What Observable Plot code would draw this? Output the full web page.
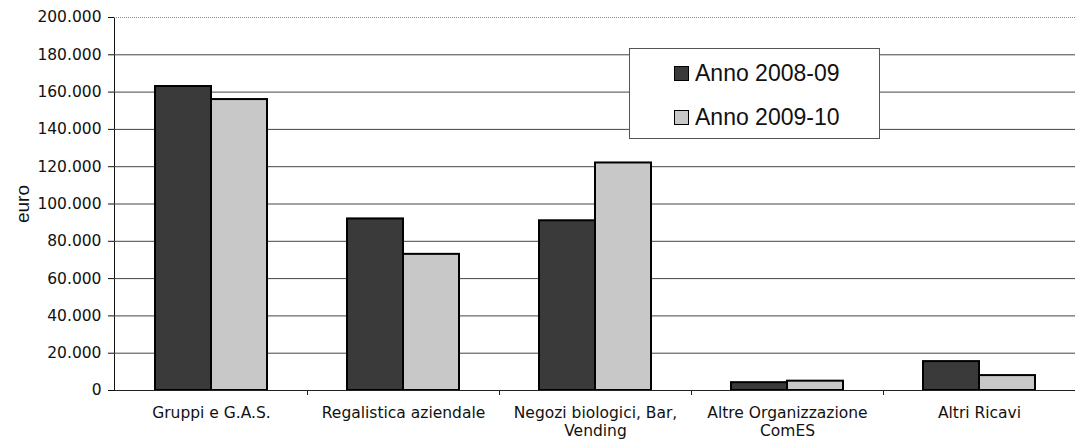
<!DOCTYPE html>
<html>
<head>
<meta charset="utf-8">
<script src="https://cdn.jsdelivr.net/npm/d3@7"></script>
<script src="https://cdn.jsdelivr.net/npm/@observablehq/plot@0.6"></script>
<style>
  html, body { margin: 0; padding: 0; background: #fff; }
  #wrap { position: relative; width: 1075px; height: 441px; }
  #legend { position: absolute; left: 629px; top: 48px; width: 249px; height: 89px;
    border: 1px solid #555; background: #fff; font-family: "Liberation Sans", Arial, sans-serif; font-size: 23px; color: #111; }
  .item { position: absolute; left: 44px; height: 24px; display: flex; align-items: center; }
  .sw { width: 13px; height: 13px; border: 1px solid #000; margin-right: 6px; }
</style>
</head>
<body>
<div id="wrap"></div>
<script>
const categories = ["Gruppi e G.A.S.", "Regalistica aziendale", "Negozi biologici, Bar, Vending", "Altre Organizzazione ComES", "Altri Ricavi"];
const labels = ["Gruppi e G.A.S.", "Regalistica aziendale", "Negozi biologici, Bar,\nVending", "Altre Organizzazione\nComES", "Altri Ricavi"];
const series = ["Anno 2008-09", "Anno 2009-10"];
const values2008 = [163000, 92000, 91000, 4200, 15500];
const values2009 = [156000, 73000, 122000, 5000, 8000];
const yTicks = [0, 20000, 40000, 60000, 80000, 100000, 120000, 140000, 160000, 180000, 200000];
const colors = ["#3a3a3a", "#c8c8c8"];

const it = d3.formatLocale({decimal: ",", thousands: ".", grouping: [3], currency: ["€", ""]});
const fmt = it.format(",");

const d2008 = categories.map((c, i) => ({cat: c, value: values2008[i]}));
const d2009 = categories.map((c, i) => ({cat: c, value: values2009[i]}));
const labelData = categories.map((c, i) => ({cat: c, label: labels[i]}));

const chart = Plot.plot({
  width: 1075,
  height: 441,
  marginLeft: 114,
  marginRight: 0,
  marginTop: 17,
  marginBottom: 51,
  style: {fontFamily: "DejaVu Sans, Verdana, sans-serif", fontSize: "15.5px", color: "#111", background: "#fff"},
  x: {domain: categories, padding: 0, axis: null},
  y: {domain: [0, 200000], ticks: yTicks, tickFormat: fmt, tickSize: 6, tickPadding: 7, label: null, line: true},
  marks: [
    Plot.ruleY(yTicks.filter(t => t > 0 && t < 200000), {stroke: "#444", strokeWidth: 1}),
    Plot.ruleY([200000], {stroke: "#888", strokeWidth: 1, strokeDasharray: "1,1"}),
    Plot.barY(d2008, {x: "cat", y: "value", fill: colors[0], stroke: "#000", strokeWidth: 2, insetLeft: 40, insetRight: 96}),
    Plot.barY(d2009, {x: "cat", y: "value", fill: colors[1], stroke: "#000", strokeWidth: 2, insetLeft: 96, insetRight: 40}),
    Plot.ruleY([0], {stroke: "#222", strokeWidth: 1}),
    Plot.ruleX(categories.slice(0, 4), {x: d => d, y1: 0, y2: 0, dx: 96, insetBottom: -5, stroke: "#222"}),
    Plot.text(labelData, {x: "cat", text: "label", frameAnchor: "bottom", lineAnchor: "top", dy: 15, fontSize: 15.5, lineHeight: 1.15, fill: "#111"}),
    Plot.text(["euro"], {frameAnchor: "left", textAnchor: "middle", rotate: -90, dx: -92, fontSize: 19, fontFamily: "Liberation Sans, Arial, sans-serif", fill: "#111"})
  ]
});

const wrap = document.getElementById("wrap");
wrap.appendChild(chart);

const legend = document.createElement("div");
legend.id = "legend";
series.forEach((s, i) => {
  const item = document.createElement("div");
  item.className = "item";
  item.style.top = (12 + i * 44) + "px";
  const sw = document.createElement("div");
  sw.className = "sw";
  sw.style.background = colors[i];
  const t = document.createElement("span");
  t.textContent = s;
  item.appendChild(sw);
  item.appendChild(t);
  legend.appendChild(item);
});
wrap.appendChild(legend);
</script>
</body>
</html>
